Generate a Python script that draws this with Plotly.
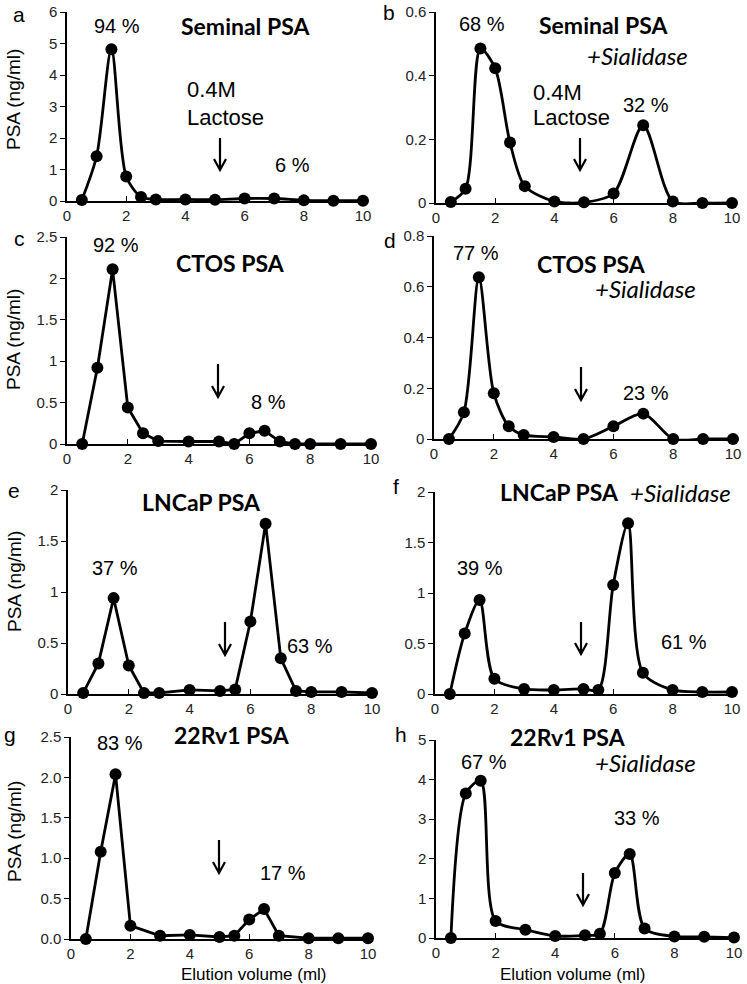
import plotly.graph_objects as go

W, H = 747, 984

# elution volumes (ml)
vol_13 = [0.5, 1, 1.5, 2, 2.5, 3, 4, 5, 6, 7, 8, 9, 10]
vol_16 = [0.5, 1, 1.5, 2, 2.5, 3, 4, 5, 5.5, 6, 6.5, 7, 7.5, 8, 9, 10]
vol_14 = [0.5, 1, 1.5, 2, 3, 4, 5, 5.5, 6, 6.5, 7, 8, 9, 10]

# PSA (ng/ml) per fraction
psa_a = [0.03, 1.42, 4.82, 0.78, 0.13, 0.05, 0.05, 0.04, 0.08, 0.08, 0.02, 0.01, 0.01]
psa_b = [0.003, 0.045, 0.485, 0.423, 0.19, 0.053, 0.005, 0.002, 0.03, 0.244, 0.005, 0.0, 0.0]
psa_c = [0.0, 0.92, 2.11, 0.44, 0.13, 0.035, 0.03, 0.03, 0.0, 0.13, 0.16, 0.03, 0.0, 0.0, 0.0, 0.0]
psa_d = [0.0, 0.105, 0.637, 0.18, 0.05, 0.016, 0.008, 0.0, 0.05, 0.10, 0.0, 0.0, 0.0]
psa_e = [0.01, 0.30, 0.94, 0.28, 0.01, 0.01, 0.04, 0.03, 0.045, 0.71, 1.67, 0.35, 0.03, 0.02, 0.02, 0.01]
psa_f = [0.0, 0.60, 0.93, 0.15, 0.05, 0.04, 0.05, 0.04, 1.08, 1.69, 0.21, 0.04, 0.02, 0.02]
psa_g = [0.0, 1.08, 2.04, 0.165, 0.04, 0.05, 0.025, 0.04, 0.24, 0.37, 0.04, 0.01, 0.01, 0.01]
psa_h = [0.0, 3.65, 3.97, 0.43, 0.21, 0.05, 0.07, 0.11, 1.64, 2.12, 0.24, 0.04, 0.03, 0.01]

# percent of PSA in each peak
pct_a = ["94 %", "6 %"]
pct_b = ["68 %", "32 %"]
pct_c = ["92 %", "8 %"]
pct_d = ["77 %", "23 %"]
pct_e = ["37 %", "63 %"]
pct_f = ["39 %", "61 %"]
pct_g = ["83 %", "17 %"]
pct_h = ["67 %", "33 %"]

ARIAL = "Liberation Sans, Arial, sans-serif"
CALIBRI = "Lato, Carlito, Calibri, sans-serif"


def px(x):
    return x / W


def py(y):
    return 1 - y / H


# panel setup: domain in pixels (x0, x1, ytop, ybottom), y max, y step
panels = [
    dict(letter="a", x=vol_13, y=psa_a, dom=(67, 363, 12, 201), ymax=6, dt=1, fmt="", shape="spline",
         name="Seminal PSA", name_xy=(245, 26), sial=None, pct=pct_a, pct_xy=[(117, 26), (292, 165)],
         letter_xy=(19, 14), arrow=(220, 138, 170), lactose=(185, 90, 117)),
    dict(letter="b", x=vol_13, y=psa_b, dom=(436, 732, 12, 203), ymax=0.6, dt=0.2, fmt="", shape="spline",
         name="Seminal PSA", name_xy=(603, 25), sial=(637, 55), pct=pct_b, pct_xy=[(482, 24), (646, 105)],
         letter_xy=(389, 13), arrow=(580, 138, 170), lactose=(531, 93, 117)),
    dict(letter="c", x=vol_16, y=psa_c, dom=(67, 371, 237, 444), ymax=2.5, dt=0.5, fmt="", shape="linear",
         name="CTOS PSA", name_xy=(230, 263), sial=None, pct=pct_c, pct_xy=[(116, 245), (268, 402)],
         letter_xy=(19, 238), arrow=(218, 364, 397), lactose=None),
    dict(letter="d", x=vol_13, y=psa_d, dom=(434, 733, 236, 439), ymax=0.8, dt=0.2, fmt="", shape="spline",
         name="CTOS PSA", name_xy=(591, 264), sial=(645, 288), pct=pct_d, pct_xy=[(476, 253), (646, 393)],
         letter_xy=(390, 240), arrow=(581, 367, 400), lactose=None),
    dict(letter="e", x=vol_16, y=psa_e, dom=(68, 372, 490, 694), ymax=2, dt=0.5, fmt="", shape="linear",
         name="LNCaP PSA", name_xy=(202, 502), sial=None, pct=pct_e, pct_xy=[(115, 568), (310, 646)],
         letter_xy=(14, 490), arrow=(225, 622, 655), lactose=None),
    dict(letter="f", x=vol_14, y=psa_f, dom=(435, 732, 492, 694), ymax=2, dt=0.5, fmt="", shape="spline",
         name="LNCaP PSA", name_xy=(559, 492), sial=(680, 492), pct=pct_f, pct_xy=[(480, 568), (684, 642)],
         letter_xy=(396, 487), arrow=(581, 622, 654), lactose=None),
    dict(letter="g", x=vol_14, y=psa_g, dom=(71, 368, 737, 939), ymax=2.5, dt=0.5, fmt=".1f", shape="linear",
         name="22Rv1 PSA", name_xy=(232, 735), sial=None, pct=pct_g, pct_xy=[(120, 743), (283, 873)],
         letter_xy=(10, 734), arrow=(219, 840, 873), lactose=None),
    dict(letter="h", x=vol_14, y=psa_h, dom=(436, 734, 740, 938), ymax=5, dt=1, fmt="", shape="spline",
         name="22Rv1 PSA", name_xy=(568, 737), sial=(645, 762), pct=pct_h, pct_xy=[(484, 762), (637, 818)],
         letter_xy=(401, 734), arrow=(583, 873, 905), lactose=None),
]

fig = go.Figure()
layout = dict(width=W, height=H, margin=dict(l=0, r=0, t=0, b=0), template="none",
              paper_bgcolor="white", plot_bgcolor="white", showlegend=False)
annotations = []
shapes = []


def txt(s, xy, size=21, family=ARIAL, xanchor="center", **kw):
    annotations.append(dict(text=s, x=px(xy[0]), y=py(xy[1]), xref="paper", yref="paper",
                            showarrow=False, xanchor=xanchor, yanchor="middle",
                            font=dict(family=family, size=size, color="black"), **kw))


for i, p in enumerate(panels):
    n = "" if i == 0 else str(i + 1)
    x0, x1, yt, yb = p["dom"]
    fig.add_trace(go.Scatter(
        x=p["x"], y=p["y"], xaxis="x" + n, yaxis="y" + n, mode="lines+markers",
        line=dict(color="black", width=2.8, shape=p["shape"], smoothing=0.8),
        marker=dict(color="black", size=12), cliponaxis=False,
    ))
    layout["xaxis" + n] = dict(
        domain=[px(x0), px(x1)], anchor="y" + n, range=[0, 10], dtick=2, tick0=0, automargin=False,
        showgrid=False, zeroline=False, showline=True, linecolor="black", linewidth=1.5,
        ticks="inside", ticklen=5, tickcolor="black",
        tickfont=dict(family=ARIAL, size=15, color="#222"),
    )
    layout["yaxis" + n] = dict(
        domain=[py(yb), py(yt)], anchor="x" + n, range=[0, p["ymax"]], dtick=p["dt"], tick0=0,
        tickformat=p["fmt"], showgrid=False, zeroline=False, showline=True, linecolor="black",
        linewidth=1.5, ticks="outside", ticklen=5, tickcolor="black", automargin=False,
        tickfont=dict(family=ARIAL, size=15, color="#222"),
    )

    txt(p["letter"], p["letter_xy"], size=21)
    txt("<b>" + p["name"] + "</b>", p["name_xy"], size=23, family=CALIBRI)
    if p["sial"]:
        txt("<i>+Sialidase</i>", p["sial"], size=24, family=CALIBRI)
    for s, xy in zip(p["pct"], p["pct_xy"]):
        txt(s, xy, size=20)
    if p["lactose"]:
        lx, ly1, ly2 = p["lactose"]
        txt("0.4M", (lx, ly1), size=22, xanchor="left")
        txt("Lactose", (lx, ly2), size=22, xanchor="left")
    ax, ay0, ay1 = p["arrow"]
    xa, ya0, ya1 = px(ax), py(ay0), py(ay1)
    dx, dy = 6 / W, 11 / H
    shapes.append(dict(
        type="path", xref="paper", yref="paper",
        path=f"M {xa},{ya0} L {xa},{ya1} M {xa - dx},{ya1 + dy} L {xa},{ya1} L {xa + dx},{ya1 + dy}",
        line=dict(color="black", width=2.2),
    ))

# y axis titles on the left column
for cy in [100, 340, 582, 832]:
    txt("PSA (ng/ml)", (14, cy), size=19, textangle=-90)
# x axis titles on the bottom row
for cx in [254, 573]:
    txt("Elution volume (ml)", (cx, 974), size=17)

layout["annotations"] = annotations
layout["shapes"] = shapes
fig.update_layout(**layout)
# drop the browser's default body margin so the figure fills the window
fig.write_html("out.html", config={"displayModeBar": False},
               post_script="document.body.style.margin = '0';")
